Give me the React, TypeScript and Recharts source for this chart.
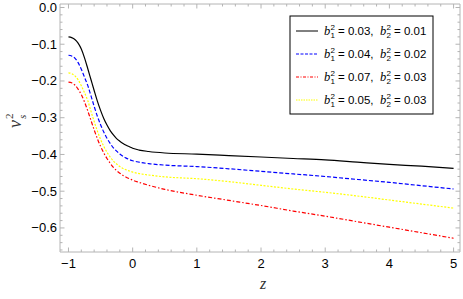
import { LineChart, Line, XAxis, YAxis } from 'recharts';

const zValues = [
  -1, -0.95, -0.9, -0.85, -0.8, -0.75, -0.7, -0.65, -0.6, -0.55, -0.5, -0.45, -0.4, -0.35, -0.3, -0.25, -0.2, -0.15, -0.1, -0.05, 0,
  0.1, 0.25, 0.5, 1, 1.5, 2, 2.5, 3, 3.5, 4, 4.5, 5,
];
const blackVals = [
  -0.080, -0.082, -0.087, -0.097, -0.113, -0.137, -0.166, -0.196, -0.226, -0.255, -0.280, -0.302, -0.320, -0.335, -0.347, -0.357, -0.364, -0.370, -0.375, -0.379, -0.383,
  -0.388, -0.392, -0.396, -0.399, -0.403, -0.407, -0.411, -0.415, -0.421, -0.427, -0.432, -0.438,
];
const blueVals = [
  -0.130, -0.132, -0.138, -0.150, -0.168, -0.190, -0.212, -0.240, -0.269, -0.296, -0.319, -0.339, -0.356, -0.370, -0.382, -0.391, -0.399, -0.405, -0.410, -0.414, -0.417,
  -0.421, -0.425, -0.429, -0.433, -0.439, -0.446, -0.453, -0.460, -0.468, -0.476, -0.485, -0.494,
];
const redVals = [
  -0.203, -0.205, -0.211, -0.222, -0.237, -0.257, -0.281, -0.307, -0.333, -0.357, -0.378, -0.396, -0.411, -0.424, -0.435, -0.444, -0.451, -0.457, -0.462, -0.466, -0.470,
  -0.476, -0.484, -0.495, -0.511, -0.525, -0.539, -0.554, -0.568, -0.583, -0.598, -0.613, -0.628,
];
const yellowVals = [
  -0.178, -0.180, -0.186, -0.197, -0.213, -0.232, -0.253, -0.282, -0.310, -0.336, -0.359, -0.378, -0.394, -0.407, -0.418, -0.426, -0.433, -0.438, -0.442, -0.445, -0.448,
  -0.452, -0.456, -0.461, -0.466, -0.474, -0.484, -0.494, -0.503, -0.513, -0.524, -0.535, -0.546,
];

const legendRows = [
  { b1: '0.03', b2: '0.01', color: '#000000', dash: undefined },
  { b1: '0.04', b2: '0.02', color: '#0000ff', dash: '3 1.5' },
  { b1: '0.07', b2: '0.03', color: '#ff0000', dash: '3 1.5 1 1.5' },
  { b1: '0.05', b2: '0.03', color: '#ffff00', dash: '1.5 1' },
];

const xTicks: number[] = [];
for (let i = -5; i <= 25; i++) xTicks.push(i / 5);
const yTicks: number[] = [];
for (let i = 0; i >= -33; i--) yTicks.push(i / 50);

const data = zValues.map((z, i) => ({
  z,
  black: blackVals[i],
  blue: blueVals[i],
  red: redVals[i],
  yellow: yellowVals[i],
}));

const FONT = '"Liberation Sans", Arial, sans-serif';
const SERIF = '"Liberation Serif", "Times New Roman", serif';
const FRAME = '#b4b4b4';

const isXMajor = (v: number) => Math.abs(v - Math.round(v)) < 1e-6;
const isYMajor = (v: number) => Math.abs(v * 10 - Math.round(v * 10)) < 1e-6;
const fmt = (s: string) => s.replace('-', '\u2212');

const BottomTick = (props: any) => {
  const { x, y, payload } = props;
  const major = isXMajor(payload.value);
  return (
    <g>
      <line x1={x} x2={x} y1={y} y2={y - (major ? 4.5 : 2.5)} stroke={FRAME} />
      {major && (
        <text x={x} y={y + 16} textAnchor="middle" fontSize={13} fontFamily={FONT} fill="#000">
          {fmt(String(payload.value))}
        </text>
      )}
    </g>
  );
};

const TopTick = (props: any) => {
  const { x, y, payload } = props;
  const major = isXMajor(payload.value);
  return <line x1={x} x2={x} y1={y} y2={y + (major ? 4.5 : 2.5)} stroke={FRAME} />;
};

const LeftTick = (props: any) => {
  const { x, y, payload } = props;
  const major = isYMajor(payload.value);
  return (
    <g>
      <line x1={x} x2={x + (major ? 4.5 : 2.5)} y1={y} y2={y} stroke={FRAME} />
      {major && (
        <text x={x - 3} y={y + 4.5} textAnchor="end" fontSize={13} fontFamily={FONT} fill="#000">
          {fmt(Number(payload.value).toFixed(1))}
        </text>
      )}
    </g>
  );
};

const RightTick = (props: any) => {
  const { x, y, payload } = props;
  const major = isYMajor(payload.value);
  return <line x1={x} x2={x - (major ? 4.5 : 2.5)} y1={y} y2={y} stroke={FRAME} />;
};

const YLabel = () => (
  <g transform="translate(21,121) rotate(-90)">
    <text x={-7} y={0} fontSize={18} fontFamily={SERIF} fontStyle="italic" fill="#333">v</text>
    <text x={2} y={-8} fontSize={11} fontFamily={SERIF} fill="#333">2</text>
    <text x={2} y={5} fontSize={11} fontFamily={SERIF} fontStyle="italic" fill="#333">s</text>
  </g>
);

const XLabel = () => (
  <text x={263} y={289} textAnchor="middle" fontSize={16} fontFamily={SERIF} fontStyle="italic" fill="#333">z</text>
);

const BSym = ({ x, y, sub }: { x: number; y: number; sub: string }) => (
  <g>
    <text x={x} y={y + 4} fontSize={12.5} fontFamily={SERIF} fontStyle="italic">b</text>
    <text x={x + 6.5} y={y - 1.5} fontSize={8} fontFamily={FONT}>2</text>
    <text x={x + 6.5} y={y + 7} fontSize={8} fontFamily={FONT}>{sub}</text>
  </g>
);

const LegendBox = () => (
  <svg width={145} height={100} style={{ position: 'absolute', left: 289, top: 15 }}>
    <rect x={1} y={1} width={143} height={98} fill="#fff" stroke="#000" strokeWidth={1} />
    {legendRows.map((r, i) => {
      const cy = 16 + i * 23;
      return (
        <g key={i}>
          <line x1={7} x2={29} y1={cy} y2={cy} stroke={r.color} strokeWidth={1} strokeDasharray={r.dash} />
          <BSym x={35} y={cy} sub="1" />
          <text x={49} y={cy + 4} fontSize={11.5} fontFamily={FONT}>{`= ${r.b1},`}</text>
          <BSym x={91} y={cy} sub="2" />
          <text x={105} y={cy + 4} fontSize={11.5} fontFamily={FONT}>{`= ${r.b2}`}</text>
        </g>
      );
    })}
  </svg>
);

export default function App() {
  return (
    <div style={{ position: 'absolute', left: 0, top: 0, width: 463, height: 299, background: '#fff' }}>
      <LineChart width={463} height={299} data={data} margin={{ top: 0, right: 0, bottom: 0, left: 0 }}>
        <XAxis
          xAxisId="b"
          dataKey="z"
          type="number"
          domain={[-1.132, 5.1]}
          ticks={xTicks}
          interval={0}
          allowDataOverflow
          height={47}
          stroke={FRAME}
          tickLine={false}
          tickSize={0}
          tickMargin={0}
          tick={<BottomTick />}
          label={<XLabel />}
        />
        <XAxis
          xAxisId="t"
          dataKey="z"
          type="number"
          orientation="top"
          domain={[-1.132, 5.1]}
          ticks={xTicks}
          interval={0}
          allowDataOverflow
          height={4}
          stroke={FRAME}
          tickLine={false}
          tickSize={0}
          tickMargin={0}
          tick={<TopTick />}
        />
        <YAxis
          yAxisId="l"
          type="number"
          domain={[-0.6655, 0.0095]}
          ticks={yTicks}
          interval={0}
          allowDataOverflow
          width={60}
          stroke={FRAME}
          tickLine={false}
          tickSize={0}
          tickMargin={0}
          tick={<LeftTick />}
          label={<YLabel />}
        />
        <YAxis
          yAxisId="r"
          orientation="right"
          type="number"
          domain={[-0.6655, 0.0095]}
          ticks={yTicks}
          interval={0}
          allowDataOverflow
          width={3}
          stroke={FRAME}
          tickLine={false}
          tickSize={0}
          tickMargin={0}
          tick={<RightTick />}
        />
        <Line xAxisId="b" yAxisId="l" type="monotone" dataKey="yellow" stroke="#ffff00" strokeWidth={1.2} strokeDasharray="2 1.5" dot={false} isAnimationActive={false} />
        <Line xAxisId="b" yAxisId="l" type="monotone" dataKey="red" stroke="#ff0000" strokeWidth={1.2} strokeDasharray="4 2 1.5 2" dot={false} isAnimationActive={false} />
        <Line xAxisId="b" yAxisId="l" type="monotone" dataKey="blue" stroke="#0000ff" strokeWidth={1.2} strokeDasharray="4 2" dot={false} isAnimationActive={false} />
        <Line xAxisId="b" yAxisId="l" type="monotone" dataKey="black" stroke="#000000" strokeWidth={1.2} dot={false} isAnimationActive={false} />
      </LineChart>
      <LegendBox />
    </div>
  );
}
